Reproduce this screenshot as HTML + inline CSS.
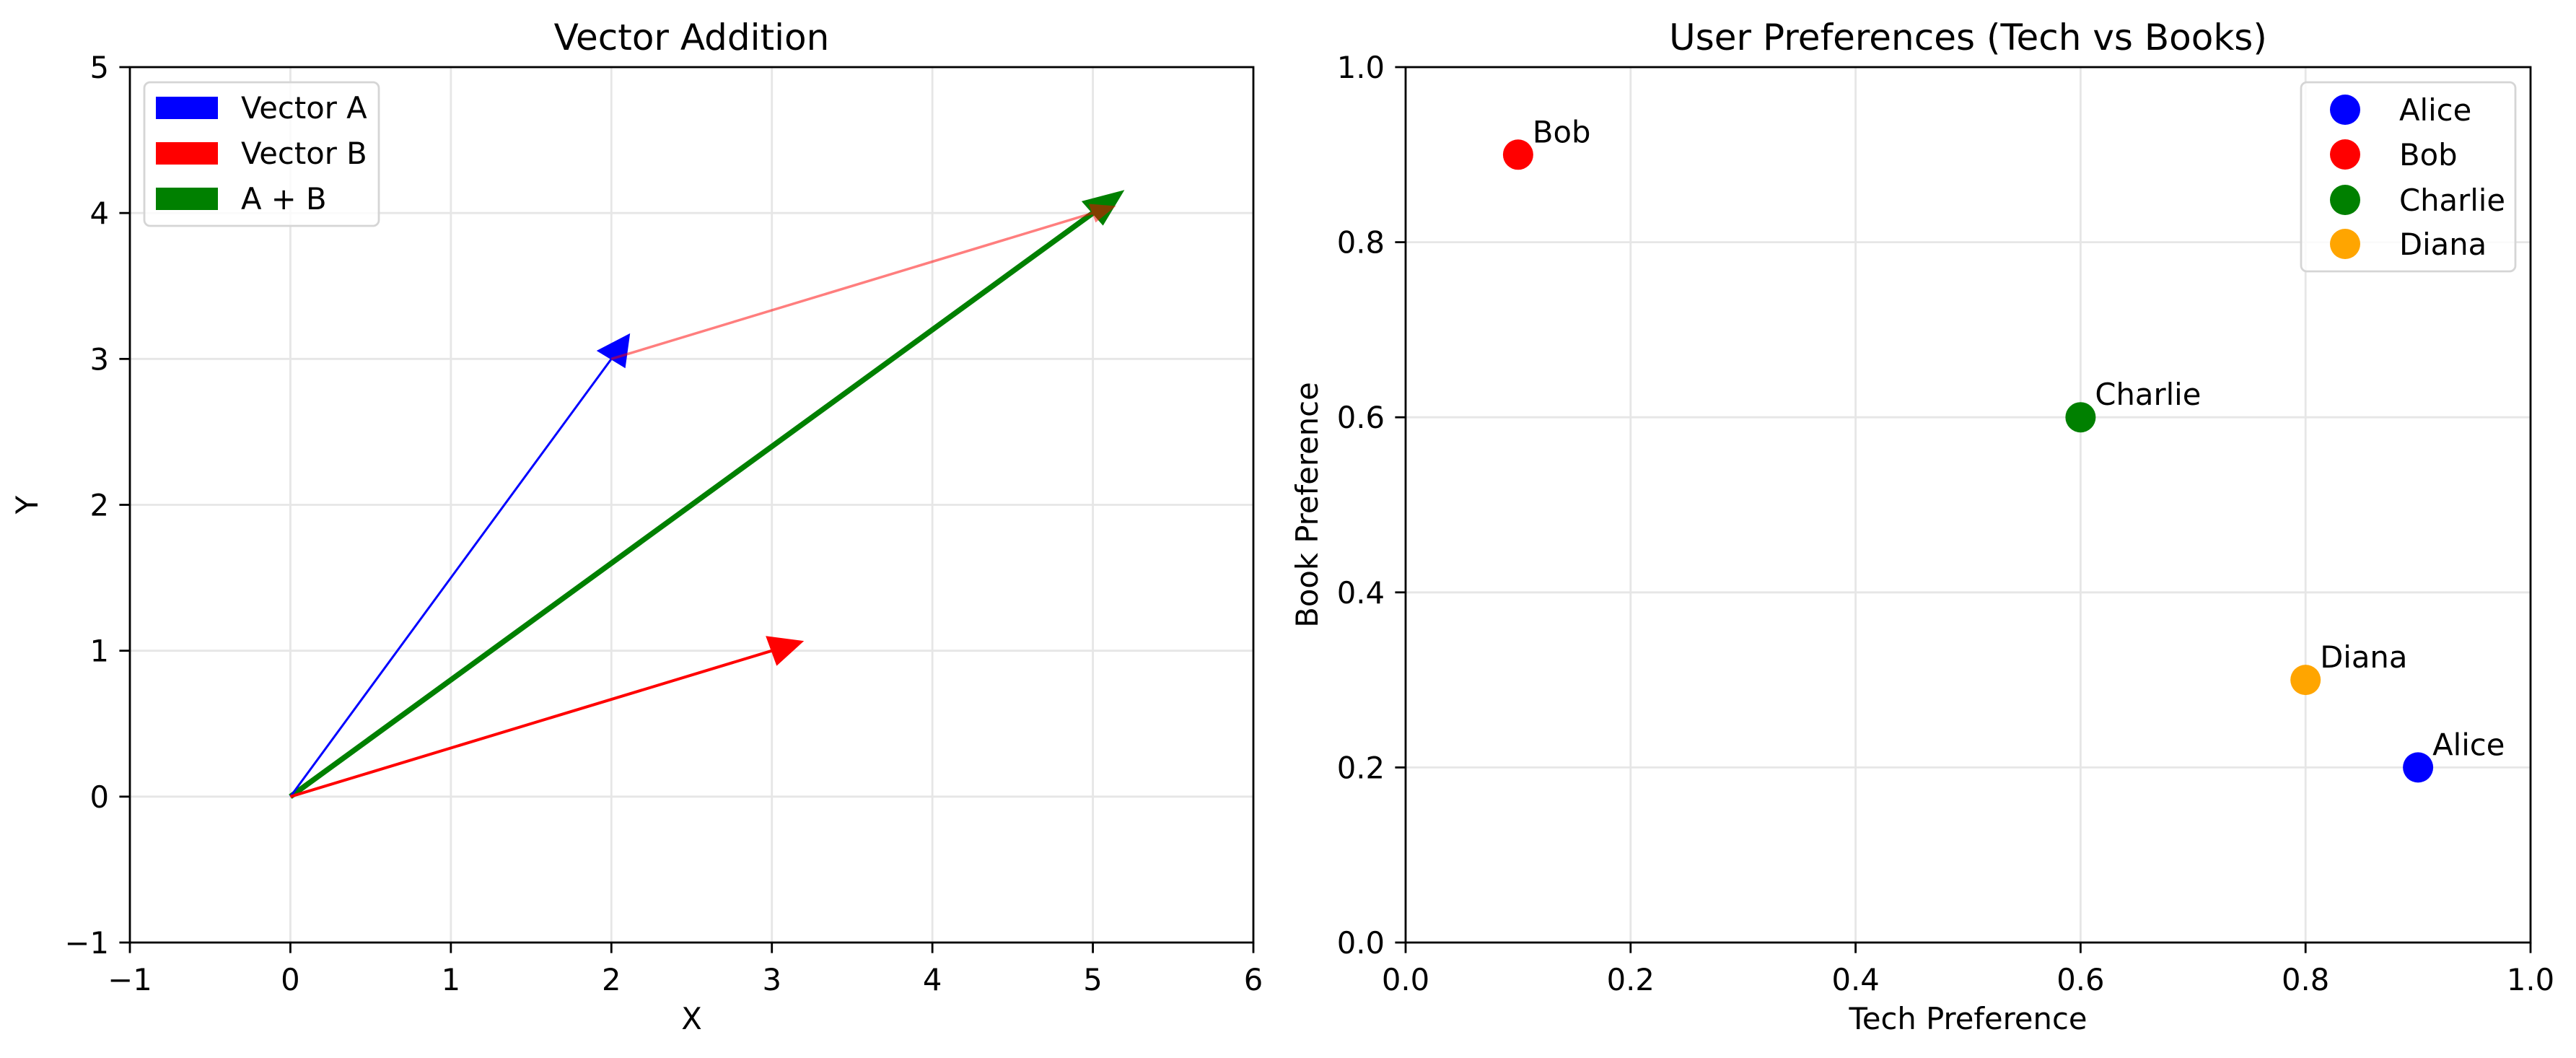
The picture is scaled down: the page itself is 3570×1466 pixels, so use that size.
<!DOCTYPE html>
<html><head><meta charset="utf-8">
<style>
html,body{margin:0;padding:0;background:#fff;}
svg{display:block;font-family:"DejaVu Sans","Liberation Sans",sans-serif;}
</style></head>
<body>
<svg id="fig" width="3570" height="1466" viewBox="0 0 3570 1466" xmlns="http://www.w3.org/2000/svg">
<rect width="3570" height="1466" fill="#fff"/>
<g id="left"></g>
<g id="right"></g>
</svg>
<script>
// ---- Left chart data ----
const vecNames = ["Vector A", "Vector B", "A + B"];
const vecStartX = [0, 0, 0];
const vecStartY = [0, 0, 0];
const vecEndX = [2, 3, 5];
const vecEndY = [3, 1, 4];
const vecColors = ["#0000ff", "#ff0000", "#008000"];
const helperStart = [2, 3];
const helperEnd = [5, 4];
const leftXTicks = [-1, 0, 1, 2, 3, 4, 5, 6];
const leftYTicks = [-1, 0, 1, 2, 3, 4, 5];
const leftXTickLabels = ["\u22121", "0", "1", "2", "3", "4", "5", "6"];
const leftYTickLabels = ["\u22121", "0", "1", "2", "3", "4", "5"];

// ---- Right chart data ----
const users = ["Alice", "Bob", "Charlie", "Diana"];
const techPref = [0.9, 0.1, 0.6, 0.8];
const bookPref = [0.2, 0.9, 0.6, 0.3];
const userColors = ["#0000ff", "#ff0000", "#008000", "#ffa500"];
const rightTicks = [0, 0.2, 0.4, 0.6, 0.8, 1.0];
const rightTickLabels = ["0.0", "0.2", "0.4", "0.6", "0.8", "1.0"];

const NS = "http://www.w3.org/2000/svg";
function mk(parent, tag, attrs, text) {
  const e = document.createElementNS(NS, tag);
  for (const k in attrs) e.setAttribute(k, attrs[k]);
  if (text !== undefined) e.textContent = text;
  parent.appendChild(e);
  return e;
}
const TOP = 93, BOT = 1306;

function axesFrame(g, L, R, xs, ys, xt, yt, xl, yl, title, xlabel, ylabel, ylabelX) {
  // grid
  xt.forEach((v) => {
    const gl = mk(g, "line", {x1: xs(v), x2: xs(v), y1: TOP, y2: BOT, stroke: "#e6e6e6", "stroke-width": 2.8});
    
    
  });
  yt.forEach((v) => {
    const gl = mk(g, "line", {x1: L, x2: R, y1: ys(v), y2: ys(v), stroke: "#e6e6e6", "stroke-width": 2.8});
    
    
  });
  // ticks and labels
  xt.forEach((v, i) => {
    const t = mk(g, "line", {x1: xs(v), x2: xs(v), y1: BOT, y2: BOT + 14.6, stroke: "#000", "stroke-width": 2.8});
    
    
    const lb = mk(g, "text", {x: xs(v), y: 1372, "font-size": 41.7, "text-anchor": "middle"}, xl[i]);
    
    
  });
  yt.forEach((v, i) => {
    const t = mk(g, "line", {x1: L - 14.6, x2: L, y1: ys(v), y2: ys(v), stroke: "#000", "stroke-width": 2.8});
    
    
    const lb = mk(g, "text", {x: L - 29, y: ys(v) + 15, "font-size": 41.7, "text-anchor": "end"}, yl[i]);
    
    
  });
  const tt = mk(g, "text", {x: (L + R) / 2, y: 69, "font-size": 50, "text-anchor": "middle"}, title);
  
  
  const xa = mk(g, "text", {x: (L + R) / 2, y: 1426, "font-size": 41.7, "text-anchor": "middle"}, xlabel);
  
  
  const cy = (TOP + BOT) / 2;
  const ya = mk(g, "text", {x: ylabelX, y: cy, "font-size": 41.7, "text-anchor": "middle", transform: `rotate(-90 ${ylabelX} ${cy})`}, ylabel);
  
  
}
function spines(g, L, R) {
  const s = mk(g, "rect", {x: L, y: TOP, width: R - L, height: BOT - TOP, fill: "none", stroke: "#000", "stroke-width": 2.8});
  
  
}

// ===== Left chart =====
(function(){
  const g = document.getElementById("left");
  const L = 180, R = 1737;
  const xs = v => L + (v + 1) / 7 * (R - L);
  const ys = v => BOT - (v + 1) / 6 * (BOT - TOP);
  axesFrame(g, L, R, xs, ys, leftXTicks, leftYTicks, leftXTickLabels, leftYTickLabels, "Vector Addition", "X", "Y", 52);

  function arrow(x0, y0, x1, y1, color, lw, hw, hl, opacity, name) {
    const dx = x1 - x0, dy = y1 - y0, len = Math.hypot(dx, dy);
    const ux = dx / len, uy = dy / len, px = -uy, py = ux;
    const tipX = x1 + ux * hl, tipY = y1 + uy * hl;
    const grp = mk(g, "g", {opacity: opacity});
    
    
    mk(grp, "line", {x1: xs(x0), y1: ys(y0), x2: xs(x1), y2: ys(y1), stroke: color, "stroke-width": lw});
    const pts = [[tipX, tipY], [x1 + px * hw, y1 + py * hw], [x1 - px * hw, y1 - py * hw]]
      .map(p => xs(p[0]) + "," + ys(p[1])).join(" ");
    mk(grp, "polygon", {points: pts, fill: color, stroke: color, "stroke-width": 2});
  }
  const names = ["vector-a-arrow", "vector-b-arrow", "sum-arrow"];
  const widths = [3, 4, 7.5];
  const hls = [0.2, 0.2, 0.24];
  // green first, then blue, red
  [2, 0, 1].forEach(i => arrow(vecStartX[i], vecStartY[i], vecEndX[i], vecEndY[i], vecColors[i], widths[i], 0.1, hls[i], 1, names[i]));
  arrow(helperStart[0], helperStart[1], helperEnd[0], helperEnd[1], "#ff0000", 3.5, 0.06, 0.14, 0.5, "vector-b-helper-arrow");

  spines(g, L, R);

  // legend
  const lg = mk(g, "g", {});
  
  
  mk(lg, "rect", {x: 200, y: 114, width: 325, height: 199, rx: 8, fill: "#fff", "fill-opacity": 0.8, stroke: "#d5d5d5", "stroke-width": 2.8});
  const ys0 = [149, 212, 275];
  vecNames.forEach((n, i) => {
    const e = mk(lg, "g", {});
    
    
    mk(e, "rect", {x: 216, y: ys0[i] - 15, width: 86, height: 31, fill: vecColors[i]});
    mk(e, "text", {x: 334, y: ys0[i] + 15, "font-size": 41.7}, n);
  });
})();

// ===== Right chart =====
(function(){
  const g = document.getElementById("right");
  const L = 1948, R = 3507;
  const xs = v => L + v * (R - L);
  const ys = v => BOT - v * (BOT - TOP);
  axesFrame(g, L, R, xs, ys, rightTicks, rightTicks, rightTickLabels, rightTickLabels, "User Preferences (Tech vs Books)", "Tech Preference", "Book Preference", 1826);

  users.forEach((u, i) => {
    const c = mk(g, "circle", {cx: xs(techPref[i]), cy: ys(bookPref[i]), r: 21, fill: userColors[i]});
    
    
    const t = mk(g, "text", {x: xs(techPref[i]) + 20, y: ys(bookPref[i]) - 17, "font-size": 41.7}, u);
    
    
  });

  spines(g, L, R);

  const lg = mk(g, "g", {});
  
  
  mk(lg, "rect", {x: 3189, y: 114, width: 297, height: 262, rx: 8, fill: "#fff", "fill-opacity": 0.8, stroke: "#d5d5d5", "stroke-width": 2.8});
  const ly = [152, 214, 277, 338];
  users.forEach((u, i) => {
    const e = mk(lg, "g", {});
    
    
    mk(e, "circle", {cx: 3250, cy: ly[i], r: 21, fill: userColors[i]});
    mk(e, "text", {x: 3325, y: ly[i] + 15, "font-size": 41.7}, u);
  });
})();
</script>
</body></html>
